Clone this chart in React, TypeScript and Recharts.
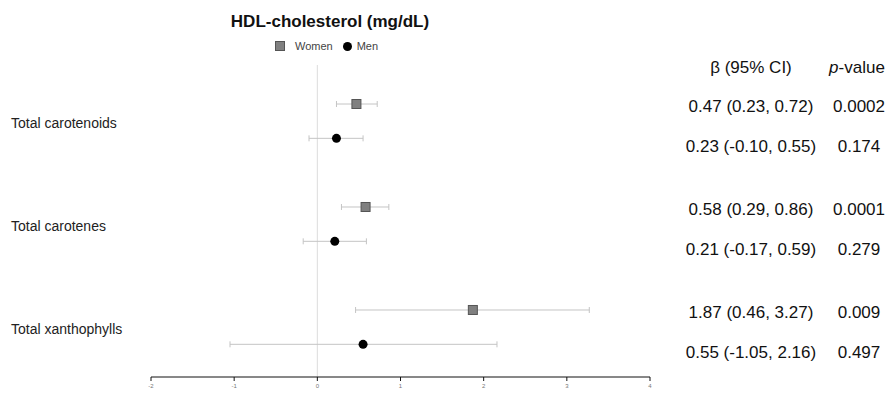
import React from 'react';
import {
  ScatterChart,
  Scatter,
  XAxis,
  YAxis,
  ErrorBar,
  ReferenceLine,
  LabelList,
} from 'recharts';

// Outcome: HDL-cholesterol (mg/dL); one row per exposure and sex
const categories = ['Total carotenoids', 'Total carotenes', 'Total xanthophylls'];
const seriesNames = ['Women', 'Men'];

const womenBeta = [0.47, 0.58, 1.87];
const womenLow = [0.23, 0.29, 0.46];
const womenHigh = [0.72, 0.86, 3.27];
const womenP = ['0.0002', '0.0001', '0.009'];

const menBeta = [0.23, 0.21, 0.55];
const menLow = [-0.1, -0.17, -1.05];
const menHigh = [0.55, 0.59, 2.16];
const menP = ['0.174', '0.279', '0.497'];

const xTicks = [-2, -1, 0, 1, 2, 3, 4];

const FONT = '"Liberation Sans", Arial, sans-serif';
const W = 888;
const H = 394;

type Row = {
  category: string;
  beta: number;
  low: number;
  high: number;
  err: [number, number];
  p: string;
  row: number;
};

// each category takes three row slots: women, men, gap
const buildRows = (
  beta: number[],
  low: number[],
  high: number[],
  p: string[],
  slot: number
): Row[] =>
  categories.map((category, i) => ({
    category,
    beta: beta[i],
    low: low[i],
    high: high[i],
    err: [beta[i] - low[i], high[i] - beta[i]],
    p: p[i],
    row: i * 3 + slot,
  }));

const womenRows = buildRows(womenBeta, womenLow, womenHigh, womenP, 0);
const menRows = buildRows(menBeta, menLow, menHigh, menP, 1);

const fmt = (v: number) => v.toFixed(2);

const CategoryTick = (props: any) => {
  const { y, payload } = props;
  const idx = Math.round((payload.value - 0.5) / 3);
  return (
    <text
      x={11}
      y={y + 2}
      textAnchor="start"
      dominantBaseline="central"
      fontFamily={FONT}
      fontSize={14}
      fill="#222"
    >
      {categories[idx]}
    </text>
  );
};

const makeTableLabel = (rows: Row[], dy: number) => (props: any) => {
  const vb = props.viewBox || {};
  const cy =
    vb.y != null
      ? vb.y + (vb.height || 0) / 2
      : (props.y || 0) + (props.height || 0) / 2;
  const r = rows[props.index];
  if (!r) return null;
  return (
    <g>
      <text
        x={751}
        y={cy + dy}
        textAnchor="middle"
        dominantBaseline="central"
        fontFamily={FONT}
        fontSize={17}
        fill="#111"
      >
        {`${fmt(r.beta)} (${fmt(r.low)}, ${fmt(r.high)})`}
      </text>
      <text
        x={859}
        y={cy + dy}
        textAnchor="middle"
        dominantBaseline="central"
        fontFamily={FONT}
        fontSize={17}
        fill="#111"
      >
        {r.p}
      </text>
    </g>
  );
};

const WomenMarker = (props: any) => (
  <rect
    x={props.cx - 4.5}
    y={props.cy - 4.5}
    width={9}
    height={9}
    fill="#808080"
    stroke="#555"
    strokeWidth={1}
  />
);

const MenMarker = (props: any) => (
  <circle cx={props.cx} cy={props.cy} r={4.5} fill="#000" />
);

export default function App() {
  return (
    <div
      style={{
        position: 'absolute',
        left: 0,
        top: 0,
        width: W,
        height: H,
        background: '#fff',
        fontFamily: FONT,
      }}
    >
      <div
        style={{
          position: 'absolute',
          left: 330,
          top: 22,
          transform: 'translate(-50%, -50%)',
          fontSize: 17,
          fontWeight: 'bold',
          color: '#111',
          whiteSpace: 'nowrap',
        }}
      >
        HDL-cholesterol (mg/dL)
      </div>
      <div
        style={{
          position: 'absolute',
          left: 275,
          top: 46,
          transform: 'translateY(-50%)',
          display: 'flex',
          alignItems: 'center',
          fontSize: 11,
          color: '#444',
          whiteSpace: 'nowrap',
        }}
      >
        <span
          style={{
            display: 'inline-block',
            width: 8,
            height: 8,
            background: '#808080',
            border: '1px solid #555',
            marginRight: 10,
          }}
        />
        <span style={{ marginRight: 10 }}>{seriesNames[0]}</span>
        <span
          style={{
            display: 'inline-block',
            width: 9,
            height: 9,
            borderRadius: '50%',
            background: '#000',
            marginRight: 5,
          }}
        />
        <span>{seriesNames[1]}</span>
      </div>
      <div
        style={{
          position: 'absolute',
          left: 751,
          top: 68,
          transform: 'translate(-50%, -50%)',
          fontSize: 17,
          color: '#111',
          whiteSpace: 'nowrap',
        }}
      >
        β (95% CI)
      </div>
      <div
        style={{
          position: 'absolute',
          left: 857,
          top: 68,
          transform: 'translate(-50%, -50%)',
          fontSize: 17,
          color: '#111',
          whiteSpace: 'nowrap',
        }}
      >
        <i>p</i>-value
      </div>
      <ScatterChart
        width={W}
        height={H}
        margin={{ top: 65, right: 238, bottom: 0, left: 0 }}
      >
        <XAxis
          type="number"
          dataKey="beta"
          domain={[-2, 4]}
          ticks={xTicks}
          allowDataOverflow
          axisLine={{ stroke: '#111', strokeWidth: 1 }}
          tickLine={{ stroke: '#111' }}
          tickSize={4}
          tickMargin={3}
          height={17}
          tick={{ fontSize: 6, fill: '#777', fontFamily: FONT }}
        />
        <YAxis
          type="number"
          dataKey="row"
          reversed
          domain={[-1.136, 7.952]}
          allowDataOverflow
          ticks={[0.5, 3.5, 6.5]}
          width={151}
          axisLine={false}
          tickLine={false}
          tick={<CategoryTick />}
        />
        <ReferenceLine x={0} stroke="#dcdcdc" strokeWidth={1} />
        <Scatter
          name={seriesNames[0]}
          data={womenRows}
          shape={<WomenMarker />}
          isAnimationActive={false}
        >
          <ErrorBar
            dataKey="err"
            direction="x"
            stroke="#c4c4c4"
            strokeWidth={1}
            width={3}
            isAnimationActive={false}
          />
          <LabelList dataKey="beta" content={makeTableLabel(womenRows, 2.5)} />
        </Scatter>
        <Scatter
          name={seriesNames[1]}
          data={menRows}
          shape={<MenMarker />}
          isAnimationActive={false}
        >
          <ErrorBar
            dataKey="err"
            direction="x"
            stroke="#c4c4c4"
            strokeWidth={1}
            width={3}
            isAnimationActive={false}
          />
          <LabelList dataKey="beta" content={makeTableLabel(menRows, 8.5)} />
        </Scatter>
      </ScatterChart>
    </div>
  );
}
